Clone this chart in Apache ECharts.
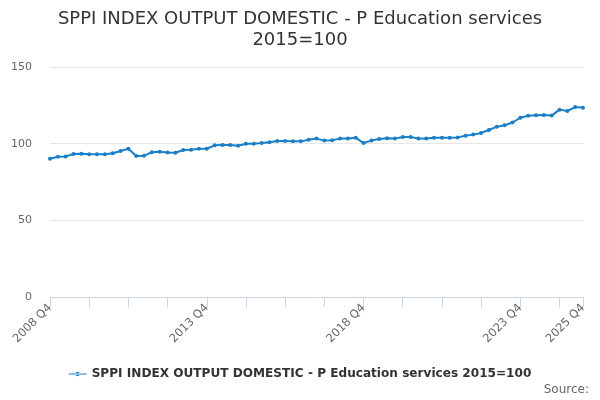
<!DOCTYPE html>
<html>
<head>
<meta charset="utf-8">
<script src="https://cdn.jsdelivr.net/npm/echarts@6/dist/echarts.min.js"></script>
<style>
  html, body { margin: 0; padding: 0; background: #fff; }
  #chart { width: 600px; height: 400px; }
</style>
</head>
<body>
<div id="chart"></div>
<script>
// quarters 2008 Q4 .. 2025 Q4
var categories = [];
for (var y = 2008; y <= 2025; y++) {
  for (var q = 1; q <= 4; q++) {
    if (y === 2008 && q < 4) continue;
    categories.push(y + ' Q' + q);
  }
}
var seriesName = 'SPPI INDEX OUTPUT DOMESTIC - P Education services 2015=100';
var values = [
  90.2, 91.5, 91.7, 93.3, 93.5, 93.1, 93.1, 93.1, 93.7, 95.2,
  96.7, 92.0, 92.2, 94.4, 94.8, 94.3, 94.1, 95.9, 96.1, 96.7,
  96.7, 98.9, 99.1, 99.1, 98.7, 100.0, 100.0, 100.4, 100.9, 101.7,
  101.7, 101.5, 101.5, 102.6, 103.3, 102.0, 102.2, 103.3, 103.3, 103.9,
  100.4, 102.0, 103.0, 103.5, 103.3, 104.4, 104.4, 103.3, 103.3, 103.9,
  103.9, 103.9, 104.1, 105.2, 105.9, 107.0, 108.9, 111.1, 112.0, 113.8,
  116.9, 118.2, 118.5, 118.7, 118.3, 122.2, 121.3, 123.9, 123.5
];
var yTicks = [0, 50, 100, 150];

var chart = echarts.init(document.getElementById('chart'));
var last = categories.length - 1;
var font = 'DejaVu Sans';

chart.setOption({
  animation: false,
  textStyle: { fontFamily: font },
  title: {
    text: 'SPPI INDEX OUTPUT DOMESTIC - P Education services\n2015=100',
    left: 'center',
    top: 4,
    textStyle: { fontSize: 18, fontWeight: 'normal', color: '#333', lineHeight: 21, fontFamily: font }
  },
  graphic: [{
    type: 'text',
    right: 11,
    top: 384,
    style: { text: 'Source:', fill: '#666', fontSize: 12, fontFamily: font }
  }],
  legend: {
    bottom: 15,
    left: 'center',
    itemWidth: 18,
    itemHeight: 8,
    itemGap: 5,
    textStyle: { fontSize: 12.1, fontWeight: 'bold', color: '#333', fontFamily: font },
    data: [{ name: seriesName, icon: 'path://M0,3.4 L18,3.4 L18,4.6 L0,4.6 Z M9,4 m-2.2,0 a2.2,2.2 0 1,0 4.4,0 a2.2,2.2 0 1,0 -4.4,0' }]
  },
  grid: { left: 50, right: 17, top: 67, bottom: 103, containLabel: false },
  xAxis: {
    type: 'category',
    data: categories,
    boundaryGap: false,
    axisLine: { lineStyle: { color: '#ccd6eb', width: 1 } },
    axisTick: {
      length: 10,
      lineStyle: { color: '#ccd6eb' },
      interval: function (i) { return i % 5 === 0 || i === last; }
    },
    axisLabel: {
      rotate: 45,
      color: '#666',
      fontSize: 11.5,
      margin: 9,
      interval: function (i) { return i % 20 === 0 || i === last; }
    },
    splitLine: { show: false }
  },
  yAxis: {
    type: 'value',
    min: yTicks[0],
    max: yTicks[yTicks.length - 1],
    interval: 50,
    axisLine: { show: false },
    axisTick: { show: false },
    axisLabel: { color: '#666', fontSize: 11, margin: 18 },
    splitLine: { lineStyle: { color: '#e6e6e6' } }
  },
  series: [{
    name: seriesName,
    type: 'line',
    data: values,
    symbol: 'circle',
    symbolSize: 4,
    showAllSymbol: true,
    lineStyle: { color: '#1a7fc6', width: 2 },
    itemStyle: { color: '#1a7fc6' }
  }]
});
</script>
</body>
</html>
